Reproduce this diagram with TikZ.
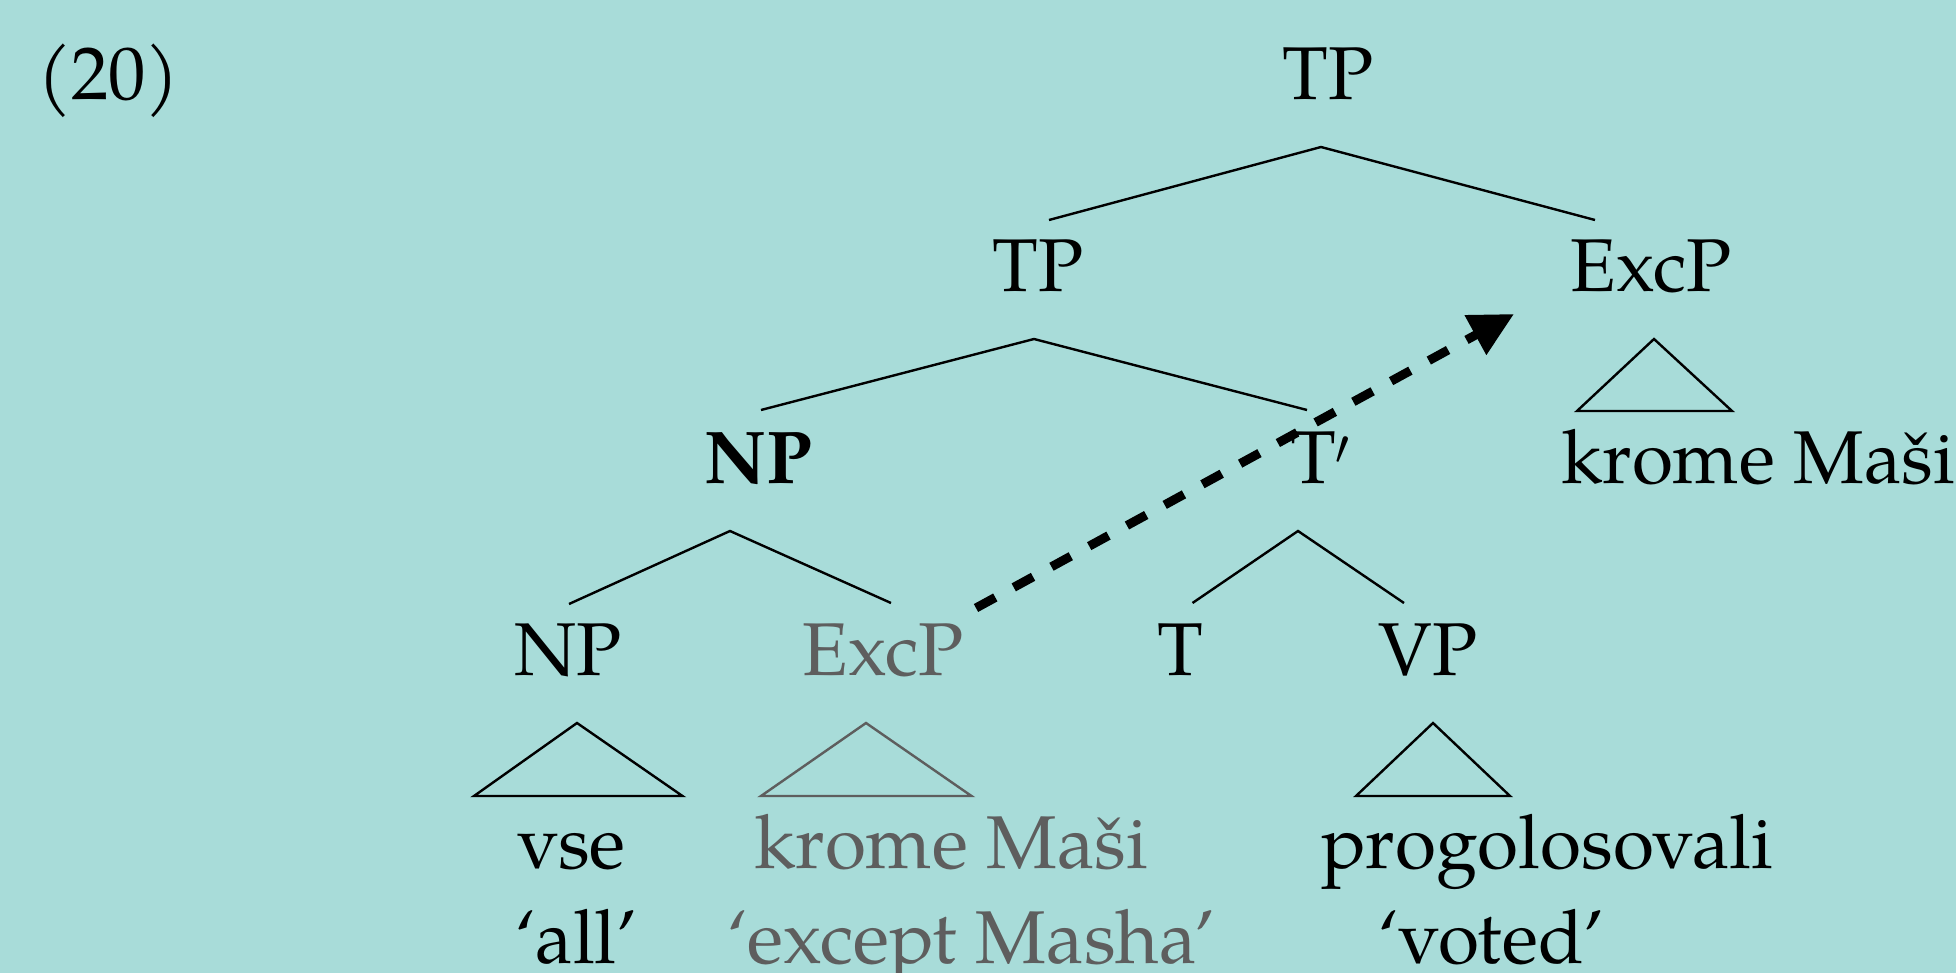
\documentclass[tikz,border=0pt]{standalone}
\usepackage{fontspec}
\setmainfont{texgyrepagella}[Extension=.otf, UprightFont=*-regular, BoldFont=*-bold, ItalicFont=*-italic, BoldItalicFont=*-bolditalic]
\usetikzlibrary{arrows.meta}
\definecolor{bgc}{HTML}{A8DCD9}
\definecolor{greyc}{HTML}{5E5E5E}
\begin{document}
\begin{tikzpicture}[x=0.5pt,y=-0.5pt,
  lbl/.style={inner sep=0pt, outer sep=0pt, anchor=base, font=\fontsize{37.4}{45}\selectfont},
  lblw/.style={lbl, anchor=base west},
  branch/.style={line width=1.2pt, line join=miter},
  gr/.style={text=greyc, draw=greyc},
  move/.style={line width=4.5pt, dash pattern=on 11pt off 10.5pt, -{Triangle[length=22pt,width=21.5pt]}}]
\fill[bgc] (0,0) rectangle (1956,973);
\useasboundingbox (0,0) rectangle (1956,973);
% labels
\node[lblw] (ex) at (37,100) {(20)};
\node[lbl] (tp1) at (1328,100) {TP};
\node[lbl] (tp2) at (1038,292) {TP};
\node[lbl] (excp1) at (1651,292) {ExcP};
\node[lbl] (np1) at (758,483) {\bfseries NP};
\node[lblw] (tbar) at (1290,483) {T$'$};
\node[lblw] (krome1) at (1561,483) {krome Maši};
\node[lbl] (np2) at (568,675) {NP};
\node[lbl, text=greyc] (excp2) at (883,675) {ExcP};
\node[lbl] (t) at (1180,675) {T};
\node[lbl] (vp) at (1428,675) {VP};
\node[lblw] (vse) at (517,868) {vse};
\node[lblw, text=greyc] (krome2) at (754,868) {krome Maši};
\node[lblw] (prog) at (1321,868) {progolosovali};
\node[lblw] (all) at (515,963) {‘all’};
\node[lblw, text=greyc] (except) at (727,963) {‘except Masha’};
\node[lblw] (voted) at (1378,963) {‘voted’};
% branch points
\coordinate (tp1-b) at (1321,147);
\coordinate (tp2-t) at (1049,220);
\coordinate (excp1-t) at (1595,220);
\coordinate (tp2-b) at (1034,339);
\coordinate (np1-t) at (761,410);
\coordinate (tbar-t) at (1307,410);
\coordinate (excp1-a) at (1654,339);
\coordinate (excp1-l) at (1577,411);
\coordinate (excp1-r) at (1732,411);
\coordinate (np1-b) at (730,531);
\coordinate (np2-t) at (569,604);
\coordinate (excp2-t) at (891,603);
\coordinate (tbar-b) at (1298,531);
\coordinate (t-t) at (1192.5,603);
\coordinate (vp-t) at (1404,603);
\coordinate (np2-a) at (577,723);
\coordinate (np2-l) at (474,796);
\coordinate (np2-r) at (682.5,796);
\coordinate (excp2-a) at (866,723);
\coordinate (excp2-l) at (761,796);
\coordinate (excp2-r) at (971.5,796);
\coordinate (vp-a) at (1433,723);
\coordinate (vp-l) at (1356,796);
\coordinate (vp-r) at (1510,796);
\coordinate (mv-s) at (976,608);
\coordinate (mv-e) at (1514,314);
% branches
\draw[branch] (tp2-t) -- (tp1-b) -- (excp1-t);
\draw[branch] (np1-t) -- (tp2-b) -- (tbar-t);
\draw[branch] (np2-t) -- (np1-b) -- (excp2-t);
\draw[branch] (t-t) -- (tbar-b) -- (vp-t);
\draw[branch] (excp1-a) -- (excp1-l) -- (excp1-r) -- cycle;
\draw[branch] (np2-a) -- (np2-l) -- (np2-r) -- cycle;
\draw[branch, draw=greyc] (excp2-a) -- (excp2-l) -- (excp2-r) -- cycle;
\draw[branch] (vp-a) -- (vp-l) -- (vp-r) -- cycle;
% movement arrow
\draw[move] (mv-s) -- (mv-e);
\end{tikzpicture}
\end{document}
